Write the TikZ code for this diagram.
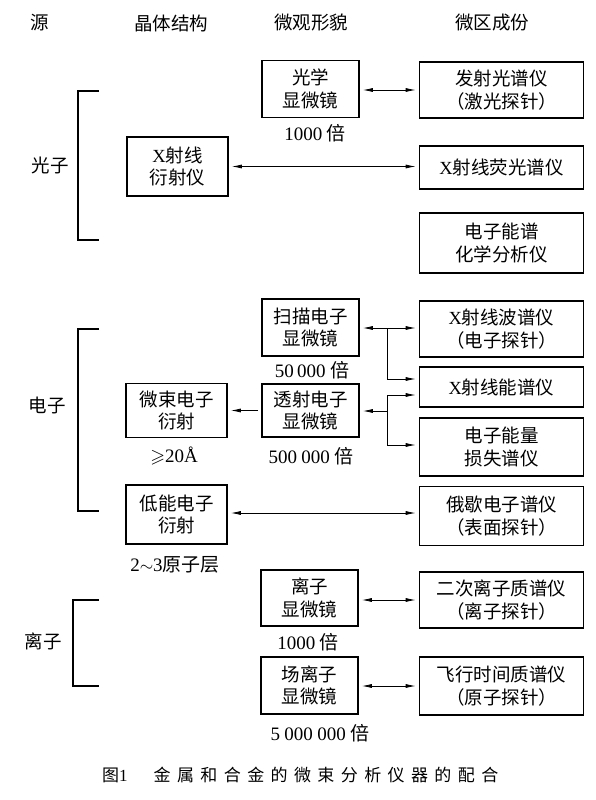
\documentclass[tikz,border=0pt]{standalone}
\usepackage{fontspec}
\usepackage{amssymb}
\setmainfont{Liberation Serif}
\newfontfamily\cjk{Noto Sans CJK SC}
\usetikzlibrary{arrows.meta,calc}
\newcommand\capsp{\hspace{6.4pt}}
\newcommand\grp{\hspace{4.5pt}}
\begin{document}
\begin{tikzpicture}[x=1pt,y=-1pt,
  box/.style={draw, line width=1.6pt, inner sep=0pt, align=center,
    font=\fontsize{18.5}{22.5}\selectfont\cjk},
  lbox/.style={box, minimum width=101pt},
  mbox/.style={box, minimum width=97pt},
  rbox/.style={box, minimum width=164pt},
  hdr/.style={font=\fontsize{18.5}{22}\selectfont\cjk},
  mag/.style={font=\fontsize{19}{20}\selectfont},
  brk/.style={line width=1.1pt},
  tip/.tip={Latex[length=10pt,width=4pt]},
  conn/.style={line width=0.8pt, shorten >=3pt, shorten <=3pt},
  connS/.style={line width=0.8pt, shorten <=3pt},
  connE/.style={line width=0.8pt, shorten >=3pt},
  ]
\useasboundingbox (0,0) rectangle (596,800);
% headers
\node[hdr] (h1) at (40,23) {源};
\node[hdr] (h2) at (171,23) {晶体结构};
\node[hdr] (h3) at (311,23) {微观形貌};
\node[hdr] (h4) at (492,23) {微区成份};
% sources
\node[hdr] (s1) at (50,165) {光子};
\node[hdr] (s2) at (47,405) {电子};
\node[hdr] (s3) at (43,641) {离子};
\draw[brk] (99,91) -- (78,91) -- (78,240) -- (99,240);
\draw[brk] (99,329) -- (78,329) -- (78,511) -- (99,511);
\draw[brk] (99,600) -- (73,600) -- (73,686) -- (99,686);
% photon
\node[mbox, minimum height=57pt] (opt) at (310.5,89) {光学\\显微镜};
\node[rbox, minimum height=56pt] (emi) at (501.5,90) {发射光谱仪\\（激光探针）};
\node[mag] (m1) at (315,133) {1000\grp{\cjk 倍}};
\node[lbox, minimum height=59pt] (xrd) at (177.5,166.5) {{\rmfamily X}射线\\衍射仪};
\node[rbox, minimum height=43pt] (xrf) at (501.5,167.5) {{\rmfamily X}射线荧光谱仪};
\node[rbox, minimum height=60pt] (esca) at (501.5,243) {电子能谱\\化学分析仪};
\draw[conn, tip-tip] (opt.east |- emi.west) -- (emi.west);
\draw[conn, tip-tip] (xrd.east) -- (xrd.east -| xrf.west);
% electron
\node[mbox, minimum height=57pt] (sem) at (310.5,327.5) {扫描电子\\显微镜};
\node[mag] (m2) at (312,370) {50\,000\grp{\cjk 倍}};
\node[rbox, minimum height=56pt] (wds) at (501.5,329) {{\rmfamily X}射线波谱仪\\（电子探针）};
\node[rbox, minimum height=40pt] (eds) at (501.5,387) {{\rmfamily X}射线能谱仪};
\node[rbox, minimum height=58pt] (eels) at (501.5,447) {电子能量\\损失谱仪};
\node[mbox, minimum height=53pt] (tem) at (310.5,410.5) {透射电子\\显微镜};
\node[mag] (m3) at (311,456) {500\grp 000\grp{\cjk 倍}};
\node[lbox, minimum height=54pt] (mbed) at (176.5,410.5) {微束电子\\衍射};
\node[mag] (m4) at (174,456) {$\geqslant$20Å};
\node[lbox, minimum height=59pt] (leed) at (176.5,514.5) {低能电子\\衍射};
\node[mag] (m5) at (175,565) {2$\sim$3{\cjk 原子层}};
\node[rbox, minimum height=59pt] (aes) at (501.5,516) {俄歇电子谱仪\\（表面探针）};
\coordinate (j1) at (387,328);
\coordinate (j1b) at (387,379);
\coordinate (j2) at (387,411);
\coordinate (j2t) at (387,395);
\coordinate (j2b) at (387,445);
\draw[conn, tip-tip] (sem.east |- j1) -- (j1 -| wds.west);
\draw[connE, -tip] (j1) -- (j1b) -- (j1b -| eds.west);
\draw[connS, tip-] (tem.east |- j2) -- (j2);
\draw[line width=0.8pt] (j2t) -- (j2b);
\draw[connE, -tip] (j2t) -- (j2t -| eds.west);
\draw[connE, -tip] (j2b) -- (j2b -| eels.west);
\draw[conn, -tip] (tem.west) -- (tem.west -| mbed.east);
\draw[conn, tip-tip] (leed.east |- 0,513) -- (aes.west |- 0,513);
% ion
\node[mbox, minimum height=56pt] (ionm) at (309.5,598) {离子\\显微镜};
\node[rbox, minimum height=56pt] (sims) at (501.5,600) {二次离子质谱仪\\（离子探针）};
\node[mag] (m6) at (308,642) {1000\grp{\cjk 倍}};
\node[mbox, minimum height=57pt] (fim) at (309.5,685.5) {场离子\\显微镜};
\node[rbox, minimum height=58pt] (tof) at (501.5,686) {飞行时间质谱仪\\（原子探针）};
\node[mag] (m7) at (320,733) {5\grp 000\grp 000\grp{\cjk 倍}};
\draw[conn, tip-tip] (ionm.east |- sims.west) -- (sims.west);
\draw[conn, tip-tip] (fim.east |- tof.west) -- (tof.west);
% caption
\node[anchor=west, inner sep=0pt, font=\fontsize{17}{18}\selectfont] (cap) at (102,775)
  {{\cjk 图}1\hspace{26pt}{\cjk 金\capsp 属\capsp 和\capsp 合\capsp 金\capsp 的\capsp 微\capsp 束\capsp 分\capsp 析\capsp 仪\capsp 器\capsp 的\capsp 配\capsp 合}};
\end{tikzpicture}
\end{document}
